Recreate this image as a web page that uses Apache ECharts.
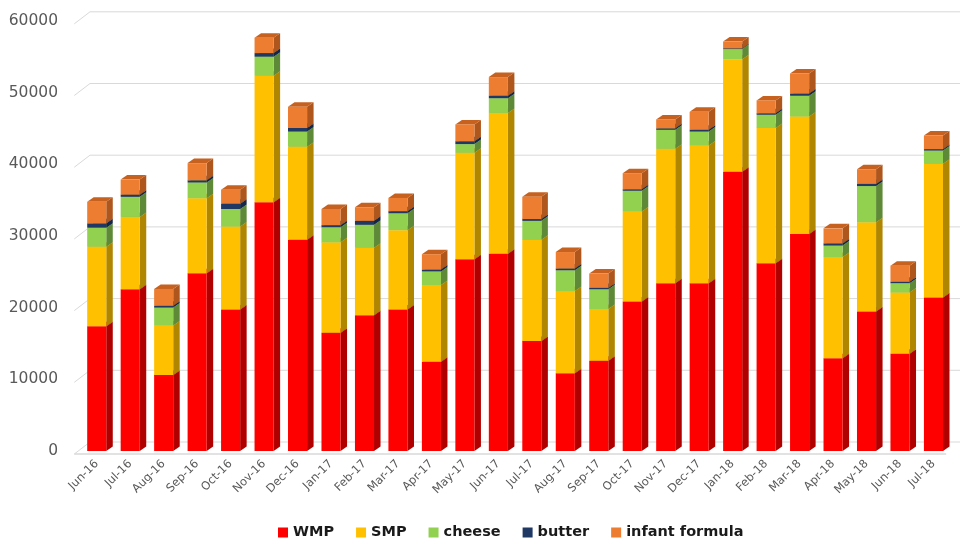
<!DOCTYPE html>
<html>
<head>
<meta charset="utf-8">
<script src="https://cdn.jsdelivr.net/npm/echarts@6/dist/echarts.min.js"></script>
<style>
html, body { margin: 0; padding: 0; background: #ffffff; }
#chart { width: 961px; height: 540px; }
</style>
</head>
<body>
<div id="chart"></div>
<script>
// Monthly dairy export volumes by product, stacked per month
const months = ['Jun-16', 'Jul-16', 'Aug-16', 'Sep-16', 'Oct-16', 'Nov-16', 'Dec-16',
  'Jan-17', 'Feb-17', 'Mar-17', 'Apr-17', 'May-17', 'Jun-17', 'Jul-17', 'Aug-17',
  'Sep-17', 'Oct-17', 'Nov-17', 'Dec-17', 'Jan-18', 'Feb-18', 'Mar-18', 'Apr-18',
  'May-18', 'Jun-18', 'Jul-18'];

const wmp = [17400, 22550, 10600, 24800, 19750, 34700, 29450, 16500, 18950, 19750,
  12450, 26750, 27500, 15350, 10850, 12600, 20850, 23400, 23400, 38950, 26200,
  30250, 12950, 19450, 13550, 21400];
const smp = [11100, 10100, 6900, 10450, 11550, 17650, 13000, 12600, 9400, 11050,
  10700, 14850, 19650, 14100, 11450, 7200, 12550, 18750, 19200, 15700, 18850,
  16400, 14100, 12450, 8550, 18650];
const cheese = [2650, 2800, 2500, 2200, 2450, 2650, 2100, 2100, 3200, 2350, 1900,
  1200, 2050, 2650, 2900, 2750, 2900, 2650, 1950, 1400, 1850, 2900, 1600, 5050,
  1300, 1850];
const butter = [600, 300, 250, 300, 750, 500, 500, 300, 550, 300, 250, 400, 350,
  250, 250, 200, 200, 200, 250, 100, 200, 300, 300, 300, 200, 200];
const infantFormula = [3000, 2100, 2350, 2400, 1950, 2150, 2950, 2250, 1900, 1850,
  2150, 2350, 2600, 3100, 2300, 2000, 2250, 1250, 2500, 950, 1800, 2800, 2100,
  2050, 2250, 1900];

const yTicks = [0, 10000, 20000, 30000, 40000, 50000, 60000];

// Products in stacking order, with front / side / top face shades
const products = [
  { name: 'WMP', values: wmp, front: '#FF0000', side: '#B00000', top: '#D00000' },
  { name: 'SMP', values: smp, front: '#FFC000', side: '#B08500', top: '#D9A300' },
  { name: 'cheese', values: cheese, front: '#92D050', side: '#5E8A38', top: '#78B040' },
  { name: 'butter', values: butter, front: '#203864', side: '#14264A', top: '#1A2F55' },
  { name: 'infant formula', values: infantFormula, front: '#ED7D31', side: '#AE561C', top: '#C6611F' }
];

// Oblique depth of the columns
const DX = 6.5, DY = 4.5;
const BAR_RATIO = 0.57;

const chart = echarts.init(document.getElementById('chart'), null, { renderer: 'canvas' });

// Running stack bases per month
const bases = months.map(() => 0);
const barSeries = products.map(p => {
  const data = p.values.map((v, i) => {
    const b = bases[i];
    bases[i] += v;
    return [i, b, b + v];
  });
  return {
    type: 'custom',
    name: p.name,
    coordinateSystem: 'cartesian2d',
    z: 3,
    itemStyle: { color: p.front },
    encode: { x: 0, y: [1, 2] },
    data: data,
    renderItem: function (params, api) {
      const i = api.value(0);
      const pb = api.coord([i, api.value(1)]);
      const pt = api.coord([i, api.value(2)]);
      const bw = api.size([1, 0])[0] * BAR_RATIO;
      const x0 = pb[0] - bw / 2, x1 = pb[0] + bw / 2;
      const yb = pb[1], yt = pt[1];
      return {
        type: 'group',
        children: [
          { type: 'polygon', shape: { points: [[x1, yb], [x1 + DX, yb - DY], [x1 + DX, yt - DY], [x1, yt]] },
            style: { fill: p.side } },
          { type: 'polygon', shape: { points: [[x0, yt], [x0 + DX, yt - DY], [x1 + DX, yt - DY], [x1, yt]] },
            style: { fill: p.top } },
          { type: 'rect', shape: { x: x0, y: yt, width: bw, height: yb - yt },
            style: { fill: p.front } }
        ]
      };
    }
  };
});

// Gridlines running from the front edge up to the back wall
const wallSeries = {
  type: 'custom',
  name: 'walls',
  coordinateSystem: 'cartesian2d',
  silent: true,
  z: 1,
  data: yTicks.map(v => [0, v]),
  encode: { x: 0, y: 1 },
  renderItem: function (params, api) {
    const cs = params.coordSys;
    const v = api.value(1);
    const y = api.coord([0, v])[1];
    const xl = cs.x;
    const front = [xl - 5.7, y + 3];
    const back = [xl + 10, y - 9];
    const children = [{
      type: 'polyline',
      shape: { points: [front, back, [960, y - 9]] },
      style: { stroke: '#D9D9D9', lineWidth: 1, fill: null }
    }];
    if (v === 0) {
      children.push({
        type: 'line',
        shape: { x1: front[0], y1: front[1], x2: cs.x + cs.width - 4, y2: front[1] },
        style: { stroke: '#D9D9D9', lineWidth: 1.3 }
      });
    }
    return { type: 'group', children: children };
  }
};

chart.setOption({
  animation: false,
  backgroundColor: '#ffffff',
  grid: { left: 80, right: 10.8, top: 20.8, bottom: 89, containLabel: false },
  legend: {
    data: products.map(p => p.name),
    icon: 'rect',
    itemWidth: 10,
    itemHeight: 10,
    itemGap: 22,
    left: 273,
    top: 520,
    textStyle: { fontFamily: 'DejaVu Sans', fontWeight: 'bold', fontSize: 14.5, color: '#1A1A1A' }
  },
  xAxis: {
    type: 'category',
    data: months,
    axisLine: { show: false },
    axisTick: { show: false },
    splitLine: { show: false },
    axisLabel: {
      rotate: 45,
      interval: 0,
      margin: 11,
      color: '#595959',
      fontSize: 11.5,
      fontFamily: 'DejaVu Sans'
    }
  },
  yAxis: {
    type: 'value',
    min: 0,
    max: 60000,
    interval: 10000,
    axisLine: { show: false },
    axisTick: { show: false },
    splitLine: { show: false },
    axisLabel: {
      margin: 22,
      color: '#595959',
      fontSize: 15.5,
      fontFamily: 'DejaVu Sans',
      formatter: function (v) { return String(v); },
      padding: [6, 0, 0, 0]
    }
  },
  series: [wallSeries].concat(barSeries)
});
</script>
</body>
</html>
